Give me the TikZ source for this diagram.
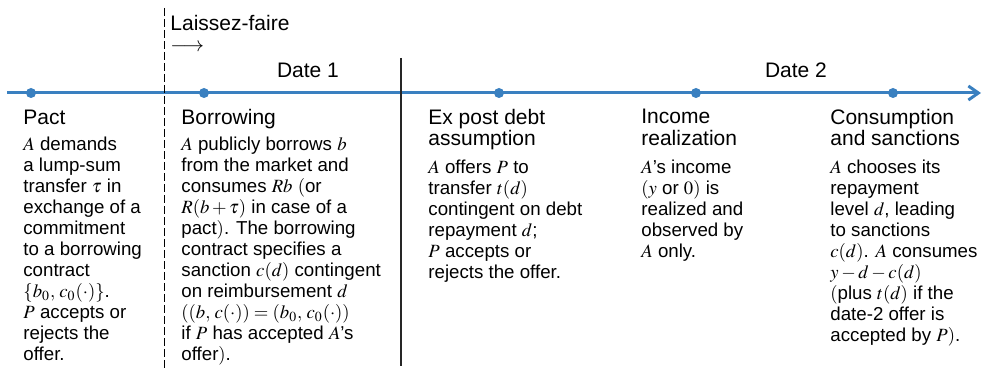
\documentclass[tikz,border=0pt]{standalone}
\usepackage{mathptmx}
\usepackage[no-math]{fontspec}
\setmainfont{Liberation Sans}
\usetikzlibrary{arrows.meta,positioning}

\definecolor{lineblue}{RGB}{58,128,192}
\newcommand{\headsize}{\fontsize{10.5}{10.6}\selectfont}
\newcommand{\bodysize}{\fontsize{9.35}{10.5}\selectfont}

\begin{document}
\begin{tikzpicture}
            [x=0.5pt, y=-0.5pt,
             event/.style={shape=circle,fill=lineblue,inner sep=0pt,minimum size=5pt},
             head/.style={anchor=north west,align=left,inner sep=0pt,font=\headsize,execute at begin node=\strut},
             body/.style={anchor=north west,align=left,inner sep=0pt,font=\bodysize,execute at begin node=\strut}]
            \useasboundingbox (0,0) rectangle (982,368);

            % time line and events
            \coordinate (start) at (7,93);
            \coordinate (end) at (981,93);
            \draw[lineblue,line width=1.5pt,-{Straight Barb[length=5pt,width=7pt]}] (start) -- (end);
            \node[event] (pactdot) at (31,93) {};
            \node[event] (borrowdot) at (204,93) {};
            \node[event] (expostdot) at (499,93) {};
            \node[event] (incomedot) at (696,93) {};
            \node[event] (consumedot) at (893,93) {};

            % separators
            \coordinate (lftop) at (164,8);
            \coordinate (lfbot) at (164,368);
            \draw[line width=0.5pt,dash pattern=on 4pt off 1.5pt] (lftop) -- (lfbot);
            \coordinate (datetop) at (401,58);
            \coordinate (datebot) at (401,366);
            \draw[line width=0.6pt,black!85] (datetop) -- (datebot);

            \node[head] (laissez) at (170,15) {Laissez-faire\\$\longrightarrow$};
            \node[font=\headsize,inner sep=0pt] (date1) at (308,70) {Date 1};
            \node[font=\headsize,inner sep=0pt] (date2) at (796,70) {Date 2};

            % headings
            \node[head] (pacthead) at (23,109) {Pact};
            \node[head] (borrowhead) at (181,109) {Borrowing};
            \node[head] (exposthead) at (428,109) {Ex post debt\\assumption};
            \node[head] (incomehead) at (641,109) {Income\\realization};
            \node[head] (consumehead) at (830,109) {Consumption\\and sanctions};

            % descriptions
            \node[body] (pacttxt) at (23,137) {$A$ demands\\a lump-sum\\transfer $\tau$ in\\exchange of a\\commitment\\to a borrowing\\contract\\$\{b_0,\,c_0(\cdot)\}$.\\$P$ accepts or\\rejects the\\offer.};
            \node[body] (borrowtxt) at (181,137) {$A$ publicly borrows $b$\\from the market and\\consumes $Rb$ $($or\\$R(b+\tau)$ in case of a\\pact$)$. The borrowing\\contract specifies a\\sanction $c(d)$ contingent\\on reimbursement $d$\\$((b,\,c(\cdot))=(b_0,\,c_0(\cdot))$\\if $P$ has accepted $A$'s\\offer$)$.};
            \node[body] (expostxt) at (428,160) {$A$ offers $P$ to\\transfer $t(d)$\\contingent on debt\\repayment $d$;\\$P$ accepts or\\rejects the offer.};
            \node[body] (incometxt) at (641,160) {$A$'s income\\$(y$ or $0)$ is\\realized and\\observed by\\$A$ only.};
            \node[body] (consumetxt) at (830,160) {$A$ chooses its\\repayment\\level $d$, leading\\to sanctions\\$c(d)$. $A$ consumes\\$y-d-c(d)$\\$($plus $t(d)$ if the\\date-2 offer is\\accepted by $P)$.};
        \end{tikzpicture}
\end{document}
